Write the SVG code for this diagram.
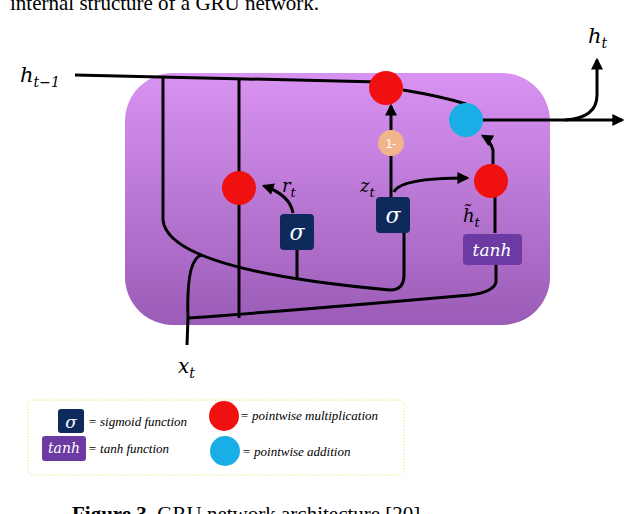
<svg xmlns="http://www.w3.org/2000/svg" width="634" height="514" viewBox="0 0 634 514">
<style>
.ln{fill:none;stroke:#000;stroke-width:3}
.m{font-family:"DejaVu Serif",serif;font-style:italic;fill:#000}
.sg{fill:#0e2a5c}
.wt{fill:#fff;font-family:"DejaVu Serif",serif;font-style:italic}
.lg{font-family:"Liberation Serif",serif;font-style:italic;font-size:13px;fill:#000}
.cap{font-family:"Liberation Serif",serif;font-size:21px;fill:#000}
</style>
<defs>
<linearGradient id="g" x1="0" y1="0" x2="0" y2="1"><stop offset="0" stop-color="#d993f2"/><stop offset="1" stop-color="#9a5cb6"/></linearGradient>
<marker id="a" viewBox="0 0 10 10" refX="8" refY="5" markerWidth="4" markerHeight="4" orient="auto"><path d="M0,0L10,5L0,10z" fill="#000"/></marker>
</defs>
<text x="10" y="10" class="cap">internal structure of a GRU network.</text>
<rect id="cell" x="125" y="73" width="425" height="252" rx="48" fill="url(#g)"/>
<g id="connectors">
<path class="ln" d="M75,75 L380,82"/>
<path class="ln" d="M403,90 Q440,96 466,104"/>
<path class="ln" d="M482,120 L622,120" marker-end="url(#a)"/>
<path class="ln" d="M565,120 Q597,118 597,95 L597,60" marker-end="url(#a)"/>
<path class="ln" d="M163,76 L163,220 Q168,270 390,290 Q404,290 404,275 L404,232"/>
<path class="ln" d="M239,78 L239,318"/>
<path class="ln" d="M297,248 L297,280"/>
<path class="ln" d="M293,213 Q290,195 264,186" marker-end="url(#a)"/>
<path class="ln" d="M391,198 L391,156"/>
<path class="ln" d="M391,130 L391,106" marker-end="url(#a)"/>
<path class="ln" d="M394,192 Q400,178 467,178" marker-end="url(#a)"/>
<path class="ln" d="M495,233 L495,197"/>
<path class="ln" d="M493,164 L493,150 Q490,140 483,136" marker-end="url(#a)"/>
<path class="ln" d="M496,265 L496,282 Q494,292 470,295 Q300,310 188,318"/>
<path class="ln" d="M187,345 L188,318 Q186,258 202,255"/>
</g>
<g id="mul1"><circle cx="386" cy="88" r="17" fill="#f01010"/></g>
<g id="mul2"><circle cx="239" cy="188" r="17" fill="#f01010"/></g>
<g id="mul3"><circle cx="491" cy="181" r="17" fill="#f01010"/></g>
<g id="add"><circle cx="466" cy="120" r="17" fill="#1aaee6"/></g>
<g id="oneminus"><circle cx="391" cy="143" r="13" fill="#f2b48a"/><text x="391" y="148" text-anchor="middle" font-family="Liberation Sans,sans-serif" font-size="12" fill="#fff">1-</text></g>
<g id="sig1"><rect x="280" y="214" width="34" height="36" rx="4" class="sg"/><text x="297" y="240" text-anchor="middle" class="wt" font-size="22">σ</text></g>
<g id="sig2"><rect x="376" y="197" width="34" height="36" rx="4" class="sg"/><text x="393" y="223" text-anchor="middle" class="wt" font-size="22">σ</text></g>
<g id="tanh"><rect x="463" y="234" width="59" height="31" rx="4" fill="#6b3aa3"/><text x="492" y="256" text-anchor="middle" class="wt" font-size="17">tanh</text></g>
<g id="labels">
<text x="20" y="82" class="m" font-size="21">h<tspan font-size="14" dy="5">t−1</tspan></text>
<text x="588" y="43" class="m" font-size="21">h<tspan font-size="14" dy="5">t</tspan></text>
<text x="282" y="192" class="m" font-size="18">r<tspan font-size="13" dy="5">t</tspan></text>
<text x="360" y="192" class="m" font-size="18">z<tspan font-size="13" dy="5">t</tspan></text>
<text x="463" y="222" class="m" font-size="18">h̃<tspan font-size="13" dy="5">t</tspan></text>
<text x="178" y="373" class="m" font-size="20">x<tspan font-size="14" dy="5">t</tspan></text>
</g>
<g id="legend">
<rect x="28" y="400" width="376" height="75" rx="4" fill="#fff" stroke="#f0d060" stroke-dasharray="1,2"/>
<rect x="58" y="409" width="26" height="24" rx="3" class="sg"/><text x="71" y="428" text-anchor="middle" class="wt" font-size="17">σ</text>
<text x="88" y="426" class="lg">= sigmoid function</text>
<circle cx="224" cy="416" r="15" fill="#f01010"/>
<text x="240" y="420" class="lg">= pointwise multiplication</text>
<rect x="42" y="436" width="44" height="25" rx="3" fill="#6b3aa3"/><text x="64" y="453" text-anchor="middle" class="wt" font-size="14">tanh</text>
<text x="88" y="453" class="lg">= tanh function</text>
<circle cx="225" cy="451" r="15" fill="#1aaee6"/>
<text x="242" y="456" class="lg">= pointwise addition</text>
</g>
<text x="72" y="521" class="cap"><tspan font-weight="bold">Figure 3.</tspan> GRU network architecture [20]</text>
</svg>
